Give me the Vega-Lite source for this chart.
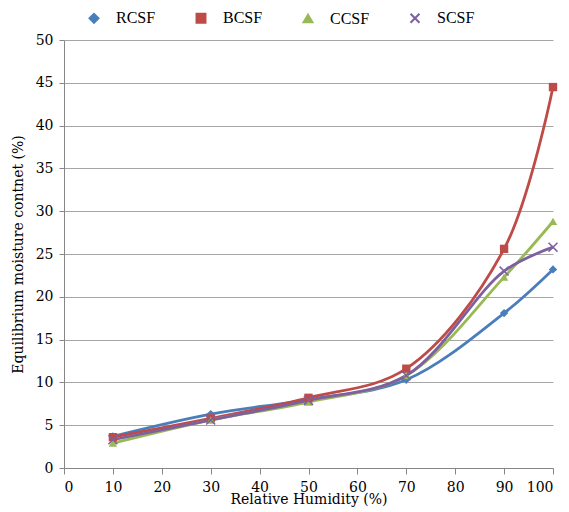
{
  "$schema": "https://vega.github.io/schema/vega-lite/v6.json",
  "width": 489,
  "height": 428,
  "autosize": {"type": "none"},
  "padding": {"left": 64, "top": 40, "right": 16, "bottom": 44},
  "background": "white",
  "config": {
    "font": "Liberation Serif",
    "view": {"stroke": null},
    "axis": {"labelFont": "DejaVu Serif", "titleFont": "DejaVu Serif", "labelFontSize": 14, "titleFontSize": 14, "titleFontWeight": "normal", "labelColor": "#000", "titleColor": "#000", "domainColor": "#868686", "tickColor": "#868686", "gridColor": "#A6A6A6"},
    "legend": {"labelFont": "Liberation Serif", "labelFontSize": 16, "labelColor": "#000"}
  },
  "data": {
    "values": [
      {"rh": 10, "emc": 3.7, "series": "RCSF"},
      {"rh": 30, "emc": 6.3, "series": "RCSF"},
      {"rh": 50, "emc": 8.0, "series": "RCSF"},
      {"rh": 70, "emc": 10.3, "series": "RCSF"},
      {"rh": 90, "emc": 18.1, "series": "RCSF"},
      {"rh": 100, "emc": 23.2, "series": "RCSF"},
      {"rh": 10, "emc": 3.6, "series": "BCSF"},
      {"rh": 30, "emc": 5.8, "series": "BCSF"},
      {"rh": 50, "emc": 8.2, "series": "BCSF"},
      {"rh": 70, "emc": 11.6, "series": "BCSF"},
      {"rh": 90, "emc": 25.6, "series": "BCSF"},
      {"rh": 100, "emc": 44.5, "series": "BCSF"},
      {"rh": 10, "emc": 2.9, "series": "CCSF"},
      {"rh": 30, "emc": 5.6, "series": "CCSF"},
      {"rh": 50, "emc": 7.7, "series": "CCSF"},
      {"rh": 70, "emc": 10.8, "series": "CCSF"},
      {"rh": 90, "emc": 22.3, "series": "CCSF"},
      {"rh": 100, "emc": 28.8, "series": "CCSF"},
      {"rh": 10, "emc": 3.3, "series": "SCSF"},
      {"rh": 30, "emc": 5.6, "series": "SCSF"},
      {"rh": 50, "emc": 7.9, "series": "SCSF"},
      {"rh": 70, "emc": 10.8, "series": "SCSF"},
      {"rh": 90, "emc": 23.0, "series": "SCSF"},
      {"rh": 100, "emc": 25.8, "series": "SCSF"}
    ]
  },
  "encoding": {
    "x": {"field": "rh", "type": "quantitative", "scale": {"domain": [0, 100], "nice": false},
          "axis": {"values": [0,10,20,30,40,50,60,70,80,90,100], "grid": false, "title": "Relative  Humidity  (%)", "titlePadding": -2, "tickSize": 6, "labelPadding": 6, "labelFont": "DejaVu Serif", "titleFont": "DejaVu Serif", "labelFontSize": 14, "titleFontSize": 14}},
    "y": {"field": "emc", "type": "quantitative", "scale": {"domain": [0, 50], "nice": false},
          "axis": {"values": [0,5,10,15,20,25,30,35,40,45,50], "grid": true, "title": "Equilibrium  moisture  contnet  (%)", "titlePadding": 10, "tickSize": 5, "labelPadding": 6, "labelFont": "DejaVu Serif", "titleFont": "DejaVu Serif", "labelFontSize": 14, "titleFontSize": 14}},
    "color": {"field": "series", "type": "nominal",
              "scale": {"domain": ["RCSF","BCSF","CCSF","SCSF"], "range": ["#4A7EBB","#BE4B48","#98B954","#7D60A0"]},
              "legend": {"title": null, "orient": "none", "legendX": 22, "legendY": -30, "direction": "horizontal", "columnPadding": 36, "symbolSize": 80, "labelOffset": 14, "symbolStrokeWidth": 2}}
  },
  "layer": [
    {
      "mark": {"type": "line", "interpolate": "catmull-rom", "strokeWidth": 2.8}
    },
    {
      "mark": {"type": "point", "filled": true, "size": 70, "opacity": 1},
      "encoding": {
        "shape": {"field": "series", "type": "nominal",
                  "scale": {"domain": ["RCSF","BCSF","CCSF","SCSF"], "range": ["diamond","square","triangle-up","M-1,-1L1,1M-1,1L1,-1"]},
                  "legend": {"title": null, "orient": "none", "legendX": 22, "legendY": -30, "direction": "horizontal", "columnPadding": 36, "symbolSize": 80, "labelOffset": 14, "symbolStrokeWidth": 2}}
      }
    },
    {
      "transform": [{"filter": "datum.series === 'SCSF'"}],
      "mark": {"type": "point", "filled": false, "size": 80, "opacity": 1, "strokeWidth": 1.5, "shape": "M-1,-1L1,1M-1,1L1,-1"}
    }
  ]
}
